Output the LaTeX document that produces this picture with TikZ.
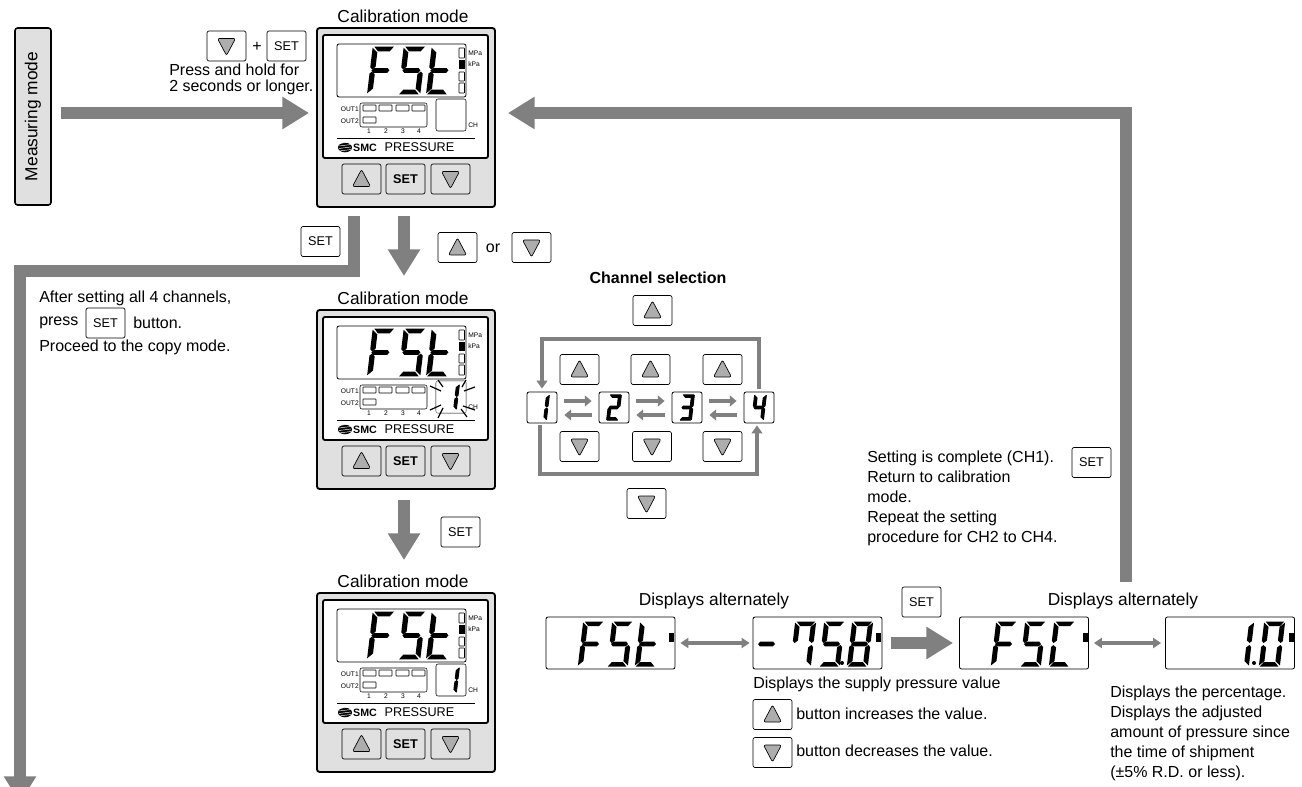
\documentclass[tikz,border=0pt]{standalone}
\usepackage{fontspec}
\usepackage{xcolor}
\usepackage{tikz}
\usetikzlibrary{arrows.meta,positioning}
\setmainfont{Liberation Sans}
\definecolor{smcgray}{gray}{0.5}
\definecolor{panelgray}{gray}{0.88}
\definecolor{trigray}{gray}{0.68}
\tikzset{
  bodytext/.style={font=\fontsize{12}{15}\selectfont, align=left, anchor=west, inner sep=0pt},
  titletext/.style={font=\fontsize{13}{15}\selectfont, inner sep=0pt},
  tinytext/.style={font=\fontsize{5}{6}\selectfont, inner sep=0pt},
  keybox/.style={draw=black, fill=white, rounded corners=1.5pt, line width=0.5pt, inner sep=0pt,
    minimum width=29.25pt, minimum height=22.5pt, font=\fontsize{9.5}{11}\selectfont},
  keyup/.style={keybox, path picture={
    \filldraw[draw=black, fill=trigray, line width=0.5pt, rounded corners=1.5pt]
      (path picture bounding box.center) ++(0,-9.5) -- ++(9,17) -- ++(-18,0) -- cycle;}},
  keydown/.style={keybox, path picture={
    \filldraw[draw=black, fill=trigray, line width=0.5pt, rounded corners=1.5pt]
      (path picture bounding box.center) ++(0,9.5) -- ++(9,-17) -- ++(-18,0) -- cycle;}},
  lcdbox/.style={draw=black, fill=white, rounded corners=1.5pt, line width=0.6pt, inner sep=0pt,
    minimum width=96.75pt, minimum height=39pt},
  chbox/.style={draw=black, fill=white, rounded corners=1.5pt, line width=0.6pt, inner sep=0pt,
    minimum width=22.5pt, minimum height=23.25pt},
  thinrect/.style={draw=black, line width=0.4pt, rounded corners=0.3pt},
  bigflow/.style={-{Triangle[length=20pt,width=23pt]}, line width=9pt, draw=smcgray},
  midflow/.style={-{Triangle[length=6pt,width=8pt]}, line width=3pt, draw=smcgray},
  smallflow/.style={-{Triangle[length=5pt,width=8pt]}, line width=3.4pt, draw=smcgray},
  bothflow/.style={{Triangle[length=6pt,width=7.5pt]}-{Triangle[length=6pt,width=7.5pt]}, line width=2.6pt, draw=smcgray},
}
% seven segment pieces
\newcommand{\sega}{(-9,-22.5)--(9.5,-22.5)--(6,-18)--(-5,-18)--cycle}
\newcommand{\segd}{(-9.5,22.5)--(9,22.5)--(5,18)--(-6,18)--cycle}
\newcommand{\segg}{(-7,-2.3)--(6,-2.3)--(8,0)--(6,2.3)--(-7,2.3)--(-9,0)--cycle}
\newcommand{\segf}{(-10.5,-21.5)--(-5.5,-17)--(-5.5,-3.5)--(-8.5,-1)--(-10.5,-3)--cycle}
\newcommand{\segb}{(10.5,-21.5)--(5.5,-17)--(5.5,-3.5)--(8.5,-1)--(10.5,-3)--cycle}
\newcommand{\sege}{(-10.5,21.5)--(-5.5,17)--(-5.5,3.5)--(-8.5,1)--(-10.5,3)--cycle}
\newcommand{\segc}{(10.5,21.5)--(5.5,17)--(5.5,3.5)--(8.5,1)--(10.5,3)--cycle}
\newcommand{\sevenseg}[4]{%
  \begin{scope}[shift={(#1,#2)},scale=#3,xslant=0.12]
    \foreach \s in {#4}{\fill \csname seg\s\endcsname;}
  \end{scope}}
% same glyph, heavier, for the little channel windows
\newcommand{\smallseg}[3]{%
  \begin{scope}[shift={(#1,#2)},scale=0.56,xslant=0.12]
    \foreach \s in {#3}{\filldraw[line width=0.7pt, line join=round] \csname seg\s\endcsname;}
  \end{scope}}
% device, #3 = whatever sits in the CH window
\newcommand{\calpanel}[3]{%
  \begin{scope}[shift={(0,#2)},name prefix=#1-]
    \node[draw=black, fill=panelgray, line width=1.4pt, rounded corners=2pt, inner sep=0pt,
      minimum width=133.5pt, minimum height=134.25pt] (frame) at (406,117.5) {};
    \node[titletext, above=3pt of frame, xshift=-2.25pt] (title) {Calibration mode};
    \node[draw=black, fill=white, line width=1.4pt, rounded corners=1.5pt, inner sep=0pt,
      minimum width=123.75pt, minimum height=92.25pt] (screen) at (405.5,96.5) {};
    \node[lcdbox, minimum height=39.75pt] (lcd) at (401.5,70.5) {};
    \sevenseg{381}{70.5}{1.06}{a,f,e,g}
    \sevenseg{412}{70.5}{1.06}{a,f,g,c,d}
    \sevenseg{440}{70.5}{1.06}{f,e,g,d}
    \draw[thinrect] (459,48) rectangle (464.5,58);
    \fill (459,60) rectangle (464.5,69);
    \draw[thinrect] (459,72) rectangle (464.5,81);
    \draw[thinrect] (459,83) rectangle (464.5,93);
    \node[tinytext, anchor=west] (mpa) at (468,53) {MPa};
    \node[tinytext, anchor=west] (kpa) at (468,64) {kPa};
    \draw[thinrect, rounded corners=1.5pt] (360,103) rectangle (427,127);
    \foreach \a/\b in {363/376,379/392,396/409,412/425}{\draw[thinrect] (\a,105) rectangle (\b,111);}
    \draw[thinrect] (363,117) rectangle (376,123);
    \node[tinytext, anchor=east] (outa) at (359,109) {OUT1};
    \node[tinytext, anchor=east] (outb) at (359,121) {OUT2};
    \foreach \n/\a in {1/369,2/386,3/403,4/419}{\node[tinytext] (num\n) at (\a,131) {\n};}
    \draw[thinrect, rounded corners=1.5pt] (436,99) rectangle (466,131);
    \node[tinytext, anchor=west] (ch) at (468,125) {CH};
    \draw[line width=0.5pt] (337,138) -- (475,138);
    \fill (345,147.5) ellipse (7 and 4.8);
    \foreach \a in {-4,-1.5,1,3.5}{\draw[white, line width=0.35pt] (339,147.5+\a) -- (351,147.5+\a-1.5);}
    \node[inner sep=0pt, font=\fontsize{8}{9}\selectfont\bfseries] (smc) at (365,147.5) {SMC};
    \node[inner sep=0pt, font=\fontsize{9.5}{11}\selectfont] (brand) at (419.5,147.5) {PRESSURE};
    \node[keyup, fill=panelgray] (up) at (361.5,179) {};
    \node[keybox, fill=panelgray, font=\fontsize{9.5}{11}\selectfont\bfseries] (set) at (405.5,179) {SET};
    \node[keydown, fill=panelgray] (down) at (450.5,179) {};
    #3
  \end{scope}}
\newcommand{\lcdind}[2]{\fill (#1+122.5,#2-10) rectangle (#1+127.5,#2-1);}

\begin{document}
\begin{tikzpicture}[x=0.75pt,y=-0.75pt]
\clip (0,0) rectangle (1302,787);

\node[draw=black, fill=panelgray, line width=1.2pt, rounded corners=2pt, inner sep=0pt, rotate=90,
  minimum width=132.75pt, minimum height=27pt, font=\fontsize{13}{15}\selectfont] (mmode) at (33,116.5) {Measuring mode};

% three panels
\calpanel{dev1}{0}{}
\calpanel{dev2}{282}{
  \draw[draw=gray!70, fill=white, line width=0.4pt, rounded corners=1.5pt] (436,99) rectangle (466,131);
  \smallseg{452}{115}{b,c}
  \foreach \a/\b/\c/\d in {438/98/443/105,466/98/462/105,430/104/441/109,475/105/464/109,
    430/128/441/123,475/128/463/124,438/136/443/126,467/135/461/127}{
    \draw[line width=0.9pt] (\a,\b) -- (\c,\d);}
}
\calpanel{dev3}{565}{\smallseg{452}{115}{b,c}}

% keys around the first panel
\node[keydown] (k1) at (226.5,46) {};
\node[bodytext, anchor=center] (plus) at (257,47) {+};
\node[keybox] (k2) at (286.5,46) {SET};
\node[bodytext, font=\fontsize{12}{12}\selectfont] (hold) at (169,79.5) {Press and hold for\\2 seconds or longer.};
\node[keybox] (k3) at (320.5,241.5) {SET};
\node[keyup] (k4) at (457.5,247.5) {};
\node[bodytext, anchor=center] (ortext) at (493,248) {or};
\node[keydown] (k5) at (531.5,247.5) {};
\node[keybox] (k6) at (460.5,532) {SET};

\node[bodytext] (after) at (39,298) {After setting all 4 channels,};
\node[bodytext] (press) at (39,323) {press};
\node[keybox] (k7) at (105.5,323) {SET};
\node[bodytext] (btn) at (133,323) {button.};
\node[bodytext] (proceed) at (39,347) {Proceed to the copy mode.};

% channel selection
\node[bodytext, anchor=center, font=\fontsize{12}{15}\selectfont\bfseries] (chsel) at (658,278) {Channel selection};
\node[keyup] (cu0) at (652.5,310.5) {};
\node[keyup] (cu1) at (579.5,369.5) {};
\node[keyup] (cu2) at (650.5,369.5) {};
\node[keyup] (cu3) at (722.5,369.5) {};
\node[keydown] (cd1) at (579.5,446.5) {};
\node[keydown] (cd2) at (652,446.5) {};
\node[keydown] (cd3) at (722.5,446.5) {};
\node[keydown] (cd0) at (646.5,503.5) {};
\node[chbox] (ch1) at (542,407.5) {};
\node[chbox] (ch2) at (614,407.5) {};
\node[chbox] (ch3) at (687,407.5) {};
\node[chbox] (ch4) at (759,407.5) {};
\smallseg{542}{407.5}{b,c}
\smallseg{614}{407.5}{a,b,g,e,d}
\smallseg{687}{407.5}{a,b,g,c,d}
\smallseg{759}{407.5}{f,g,b,c}

\coordinate (looptop) at (650,339);
\coordinate (loopbot) at (650,474);
\draw[midflow] ([shift={(0,-3)}]ch4.north) |- (looptop) -| ([shift={(0,-3)}]ch1.north);
\draw[midflow] ([shift={(-2.5,2)}]ch1.south) |- (loopbot) -| ([shift={(-2,2)}]ch4.south);
\foreach \a/\b in {1/2,2/3,3/4}{
  \draw[smallflow] ([shift={(7,-6.5)}]ch\a.east) -- ([shift={(-7,-6.5)}]ch\b.west);
  \draw[smallflow] ([shift={(-7,7.5)}]ch\b.west) -- ([shift={(7,7.5)}]ch\a.east);
}

% lower row of displays
\node[titletext] (alta) at (714,601) {Displays alternately};
\node[titletext] (altb) at (1123,601) {Displays alternately};
\node[lcdbox] (lcd1) at (610.5,643) {};
\node[lcdbox] (lcd2) at (817.5,643) {};
\node[lcdbox] (lcd3) at (1024,643) {};
\node[lcdbox] (lcd4) at (1230,643) {};
\sevenseg{591}{644}{1}{a,f,e,g}
\sevenseg{620}{644}{1}{a,f,g,c,d}
\sevenseg{648}{644}{1}{f,e,g,d}
\sevenseg{767}{644}{1}{g}
\sevenseg{803}{644}{1}{a,f,b,c}
\sevenseg{832}{644}{1}{a,f,g,c,d}
\sevenseg{860}{644}{1}{a,b,c,d,e,f,g}
\fill (842,663) circle (2);
\sevenseg{1004}{644}{1}{a,f,e,g}
\sevenseg{1033}{644}{1}{a,f,g,c,d}
\sevenseg{1062}{644}{1}{a,f,e,d}
\sevenseg{1241}{644}{1}{b,c}
\sevenseg{1272}{644}{1}{a,b,c,d,e,f}
\fill (1254,663) circle (2);
\lcdind{546}{643}
\lcdind{753}{643}
\lcdind{960}{643}
\lcdind{1166}{643}

\node[keybox] (k8) at (921.5,602) {SET};
\node[bodytext] (supply) at (753,684) {Displays the supply pressure value};
\node[keyup] (k9) at (772.5,714.5) {};
\node[bodytext] (incr) at (796,714) {button increases the value.};
\node[keydown] (k10) at (772.5,752.5) {};
\node[bodytext] (decr) at (796,751) {button decreases the value.};
\node[bodytext] (percent) at (1110,733) {Displays the percentage.\\Displays the adjusted\\amount of pressure since\\the time of shipment\\(±5\% R.D. or less).};
\node[bodytext] (done) at (867,498) {Setting is complete (CH1).\\Return to calibration\\mode.\\Repeat the setting\\procedure for CH2 to CH4.};
\node[keybox] (k11) at (1091.5,462.5) {SET};

% big arrows
\coordinate (setturn) at (354,271);
\coordinate (leftout) at (20,803);
\coordinate (retstart) at (1125.5,582);
\draw[bigflow] ([shift={(9,-3.5)}]mmode.south) -- ([shift={(-7,-4.5)}]dev1-frame.west);
\draw[bigflow] ([shift={(-2,8)}]dev1-frame.south) -- ([shift={(-2,-33)}]dev2-frame.north);
\draw[bigflow] ([shift={(-2,10)}]dev2-frame.south) -- ([shift={(-2,-32)}]dev3-frame.north);
\draw[bigflow] ([shift={(-52,8)}]dev1-frame.south) -- (setturn) -| (leftout);
\draw[bigflow] (retstart) |- ([shift={(12,-4.5)}]dev1-frame.east);
\draw[bigflow] ([xshift=6.75pt]lcd2.east) -- ([xshift=-4.5pt]lcd3.west);
\draw[bothflow] ([xshift=3.75pt]lcd1.east) -- ([xshift=-2.25pt]lcd2.west);
\draw[bothflow] ([xshift=3.75pt]lcd3.east) -- ([xshift=-3pt]lcd4.west);
\end{tikzpicture}
\end{document}
